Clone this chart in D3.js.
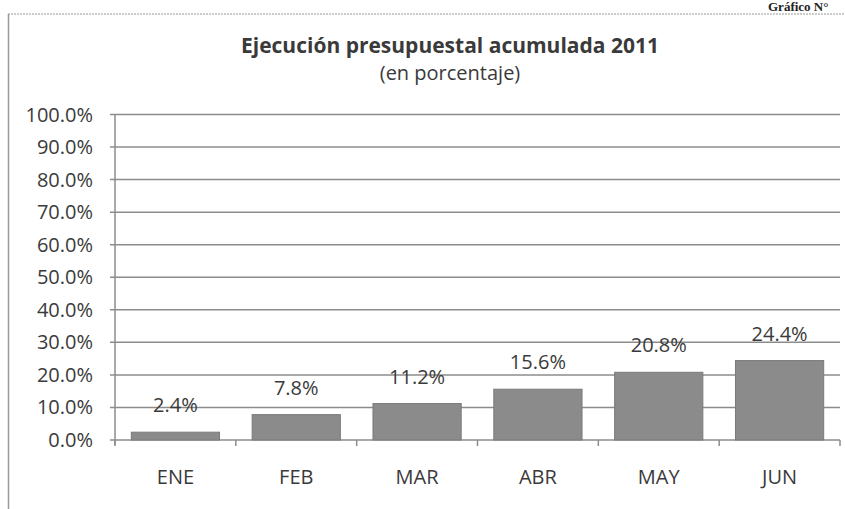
<!DOCTYPE html>
<html>
<head>
<meta charset="utf-8">
<script src="https://cdn.jsdelivr.net/npm/d3@7"></script>
<style>
	body { margin: 0; background: #fff; }
	svg { display: block; }
	text { font-family: "Open Sans", sans-serif; fill: #3a3a3a; }
</style>
</head>
<body>
<div id="chart"></div>
<script>
// months and accumulated execution (%)
const months = ["ENE", "FEB", "MAR", "ABR", "MAY", "JUN"];
const execucion = [2.4, 7.8, 11.2, 15.6, 20.8, 24.4];
const yTicks = [0, 10, 20, 30, 40, 50, 60, 70, 80, 90, 100];

const W = 845, H = 509;
const margin = {left: 115, right: 5, top: 114.5, bottom: 69};

let svg = d3.select("#chart").append("svg").attr("width", W).attr("height", H);

// scanned page frame
svg.append("line").attr("x1", 8).attr("x2", W).attr("y1", 14).attr("y2", 14)
	.attr("stroke", "#999").attr("stroke-width", 1).attr("stroke-dasharray", "2,1");
svg.append("line").attr("x1", 8.5).attr("x2", 8.5).attr("y1", 14).attr("y2", H)
	.attr("stroke", "#999").attr("stroke-width", 1.5);
svg.append("text").attr("x", 768).attr("y", 11)
	.style("font-family", "'Liberation Serif', serif").style("font-weight", "bold")
	.style("font-size", "13px").style("fill", "#222").text("Gráfico N°");

// titles
svg.append("text").attr("x", 450).attr("y", 53).attr("text-anchor", "middle")
	.style("font-weight", "bold").style("font-size", "21px").text("Ejecución presupuestal acumulada 2011");
svg.append("text").attr("x", 450).attr("y", 80).attr("text-anchor", "middle")
	.style("font-size", "20px").text("(en porcentaje)");

let x = d3.scaleBand().domain(months).range([margin.left, W - margin.right]).paddingInner(0.27).paddingOuter(0.135);
let y = d3.scaleLinear().domain([0, 100]).range([H - margin.bottom, margin.top]);

// gridlines
svg.append("g").selectAll("line").data(yTicks).enter().append("line")
	.attr("x1", margin.left - 5).attr("x2", W - margin.right)
	.attr("y1", d => y(d)).attr("y2", d => y(d))
	.attr("stroke", "#8c8c8c").attr("stroke-width", 1.5);

// y labels
svg.append("g").selectAll("text").data(yTicks).enter().append("text")
	.attr("x", 93).attr("y", d => y(d)).attr("dy", "0.35em").attr("text-anchor", "end")
	.style("font-size", "20px").text(d => d3.format(".1f")(d) + "%");

// bars
svg.append("g").selectAll("rect").data(execucion).enter().append("rect")
	.attr("x", (d, i) => x(months[i])).attr("width", x.bandwidth())
	.attr("y", d => y(d)).attr("height", d => y(0) - y(d))
	.attr("fill", "#8b8b8b").attr("stroke", "#7a7a7a").attr("stroke-width", 1);

// value labels
svg.append("g").selectAll("text").data(execucion).enter().append("text")
	.attr("x", (d, i) => x(months[i]) + x.bandwidth() / 2).attr("y", d => y(d) - 20)
	.attr("text-anchor", "middle").style("font-size", "20px").text(d => d3.format(".1f")(d) + "%");

// axes lines
svg.append("line").attr("x1", margin.left).attr("x2", margin.left)
	.attr("y1", y(100)).attr("y2", y(0) + 5).attr("stroke", "#8c8c8c").attr("stroke-width", 1.5);
let cats = d3.range(months.length + 1).map(i => margin.left + i * x.step());
svg.append("g").selectAll("line").data(cats).enter().append("line")
	.attr("x1", d => d).attr("x2", d => d).attr("y1", y(0)).attr("y2", y(0) + 6)
	.attr("stroke", "#8c8c8c").attr("stroke-width", 1.5);

// category labels
svg.append("g").selectAll("text").data(months).enter().append("text")
	.attr("x", d => x(d) + x.bandwidth() / 2).attr("y", 484)
	.attr("text-anchor", "middle").style("font-size", "20px").text(d => d);
</script>
</body>
</html>
